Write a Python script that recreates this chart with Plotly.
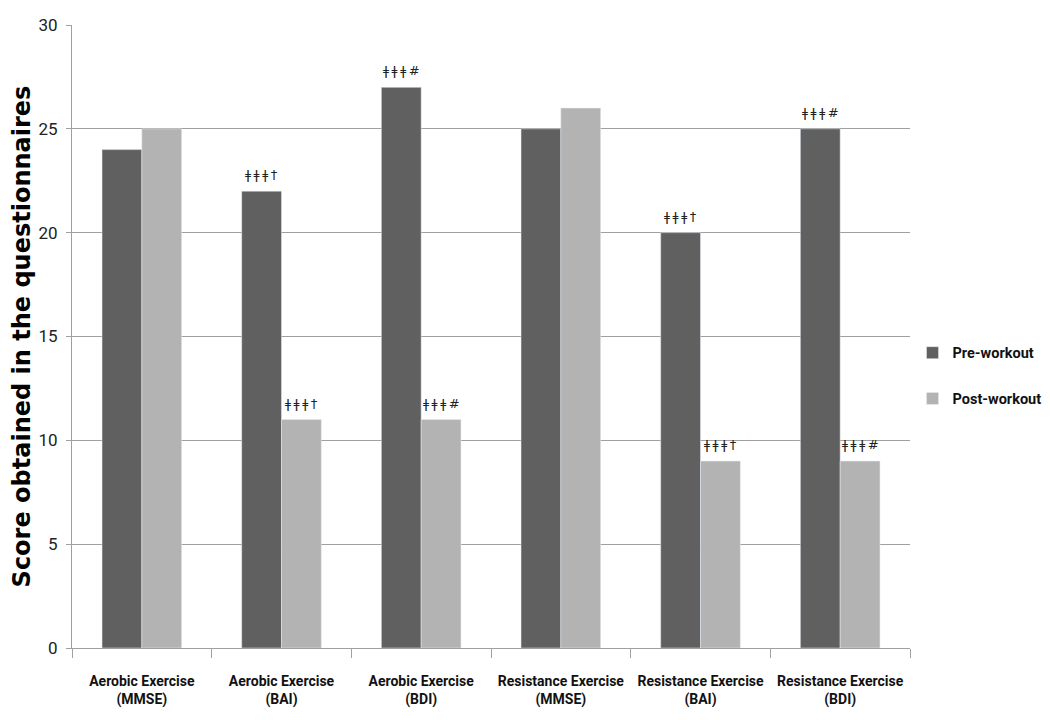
import plotly.graph_objects as go

categories = ["Aerobic Exercise<br>(MMSE)", "Aerobic Exercise<br>(BAI)", "Aerobic Exercise<br>(BDI)",
              "Resistance Exercise<br>(MMSE)", "Resistance Exercise<br>(BAI)", "Resistance Exercise<br>(BDI)"]
pre_values = [24, 22, 27, 25, 20, 25]
post_values = [25, 11, 11, 26, 9, 9]
pre_marks = ["", "ǂ\u2009ǂ\u2009ǂ\u2009†", "ǂ\u2009ǂ\u2009ǂ\u2009#", "", "ǂ\u2009ǂ\u2009ǂ\u2009†", "ǂ\u2009ǂ\u2009ǂ\u2009#"]
post_marks = ["", "ǂ\u2009ǂ\u2009ǂ\u2009†", "ǂ\u2009ǂ\u2009ǂ\u2009#", "", "ǂ\u2009ǂ\u2009ǂ\u2009†", "ǂ\u2009ǂ\u2009ǂ\u2009#"]

font_main = "Roboto, Noto Sans, sans-serif"

fig = go.Figure()
fig.add_trace(go.Bar(x=categories, y=pre_values, name="Pre-workout", marker_color="#606060",
                     legendgroup="a"))
fig.add_trace(go.Bar(x=categories, y=post_values, name="Post-workout", marker_color="#b3b3b3",
                     legendgroup="b"))

bw = 0.285
for i in range(len(categories)):
    for vals, marks, off in ((pre_values, pre_marks, -bw / 2), (post_values, post_marks, bw / 2)):
        if marks[i]:
            fig.add_annotation(x=i + off, y=vals[i], text=marks[i], showarrow=False,
                               yanchor="bottom", yshift=7,
                               font=dict(size=13, color="#222", family="DejaVu Sans"))

fig.update_layout(
    width=1050, height=720,
    margin=dict(l=64, r=148, t=17, b=80, autoexpand=False),
    plot_bgcolor="white", paper_bgcolor="white",
    barmode="group", bargap=0.43, bargroupgap=0,
    showlegend=True,
    legend=dict(x=1.003, y=0.437, yanchor="middle", xanchor="left", tracegroupgap=24,
                font=dict(family=font_main, size=14.5, color="#111", weight="bold")),
    xaxis=dict(showgrid=False, showline=True, linecolor="#a0a0a0", linewidth=1, automargin=False,
               ticks="outside", tickson="boundaries", ticklen=9, tickcolor="#a0a0a0",
               ticklabelstandoff=20,
               tickfont=dict(family=font_main, size=14, color="#111", weight="bold")),
    yaxis=dict(range=[0, 30], dtick=5, showgrid=True, gridcolor="#a0a0a0", gridwidth=1,
               showline=True, linecolor="#a0a0a0", ticks="outside", ticklen=5, automargin=False,
               tickcolor="#a0a0a0", zeroline=False, ticklabelstandoff=5,
               tickfont=dict(family=font_main, size=17, color="#222"),
               title=dict(text="<b>Score obtained in the questionnaires</b>", standoff=8,
                          font=dict(family="DejaVu Sans", size=24, color="#000"))),
)

fig.write_html("out.html")
